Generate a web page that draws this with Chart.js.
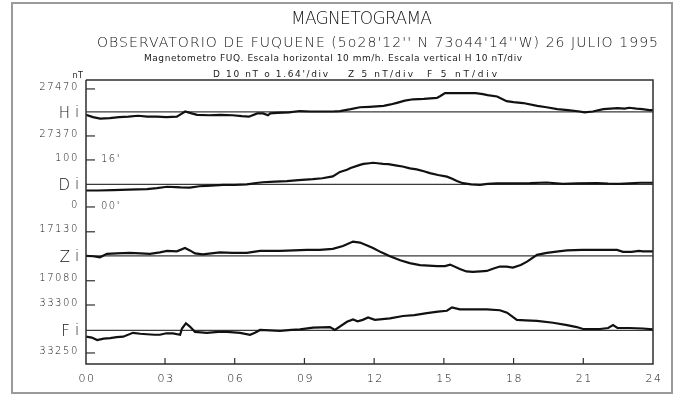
<!DOCTYPE html>
<html><head><meta charset="utf-8">
<script src="https://cdn.jsdelivr.net/npm/chart.js@4.4.1/dist/chart.umd.min.js"></script>
<style>html,body{margin:0;padding:0;background:#fff;overflow:hidden}canvas{display:block}</style>
</head><body>
<canvas id="c" width="676" height="396"></canvas>
<script>
// ---- data ----
const timeRange = [-0.4, 24];
const hourTicks = [0, 3, 6, 9, 12, 15, 18, 21, 24];
const hourTickLabels = ['00', '03', '06', '09', '12', '15', '18', '21', '24'];
const componentNames = ['H', 'D', 'Z', 'F'];
const hTickValues = [27470, 27370];
const dTickValues = [100, 0];
const dTickArcLabels = ["16'", "00'"];
const zTickValues = [17130, 17080];
const fTickValues = [33300, 33250];
const baselineValues = [27421, 48, 17105.5, 33273.5]; // H, D, Z, F reference lines

const hHours = [-0.40,-0.10,0.21,0.62,1.02,1.43,1.84,2.24,2.65,3.06,3.51,3.67,3.87,4.07,4.38,4.89,5.39,5.90,6.31,6.61,6.97,7.22,7.43,7.53,7.83,8.34,8.80,9.26,9.77,10.22,10.53,10.99,11.39,11.80,12.10,12.41,12.71,13.02,13.32,13.68,14.14,14.70,14.85,15.05,15.46,15.87,16.37,16.68,16.88,17.29,17.70,18.00,18.41,19.02,19.42,19.88,20.34,20.85,21.05,21.41,21.86,22.17,22.47,22.78,22.98,23.29,23.54,23.85,24.00];
const hValues = [27415,27410,27407,27408,27410,27411,27413,27411,27411,27410,27411,27416,27422,27419,27415,27414,27415,27414,27412,27411,27418,27418,27414,27418,27419,27420,27423,27422,27422,27422,27423,27427,27431,27432,27433,27434,27437,27441,27445,27448,27449,27451,27455,27461,27461,27461,27461,27459,27457,27454,27444,27442,27440,27434,27431,27427,27425,27422,27420,27422,27427,27428,27429,27428,27430,27428,27427,27425,27425];

const dHours = [-0.40,0.11,0.76,1.43,2.22,2.65,3.09,3.46,3.67,4.07,4.48,4.80,5.50,6.00,6.52,6.92,7.21,7.73,8.24,8.75,9.36,9.77,10.22,10.53,10.83,10.99,11.39,11.54,11.80,11.95,12.15,12.38,12.61,12.98,13.22,13.54,13.83,14.14,14.40,14.75,15.13,15.36,15.56,15.82,16.17,16.56,16.88,17.29,17.90,18.71,19.42,20.12,20.74,21.59,22.07,22.58,22.98,23.44,24.00];
const dValues = [35,35,36,37,38,40,43,42,41.5,41,44,45,47,47,48,51,52.5,54,55,57,59,61,65,74.5,79,83,89.4,91.5,93,94,93,91.5,91,88,86,82,80,76,72,68,64.5,60,55,50.5,48,47,49,50,50,50.5,52,49,50,50.5,49.5,49,50,51.5,51.5];

const zHours = [-0.40,-0.10,0.20,0.50,0.92,1.49,1.94,2.35,2.78,3.09,3.51,3.86,4.07,4.29,4.63,4.99,5.36,5.90,6.52,7.09,7.53,7.95,8.55,9.10,9.66,10.22,10.66,11.09,11.39,11.70,11.95,12.31,12.68,13.12,13.53,13.97,14.34,14.71,15.05,15.27,15.69,15.97,16.25,16.58,16.85,17.14,17.41,17.70,17.97,18.31,18.58,19.01,19.43,19.93,20.30,20.95,21.42,21.96,22.45,22.71,23.08,23.39,23.57,24.00];
const zValues = [17105.5,17105,17104,17107.5,17108,17108.5,17108,17107.5,17109,17110.5,17110,17113.5,17111,17108,17107,17108,17109,17108.5,17108.5,17110.5,17110.5,17110.5,17111,17111.5,17111.5,17112.5,17115.5,17120,17119,17116,17113.5,17109,17105,17101,17098,17096,17095.5,17095,17095,17096.5,17092,17089.5,17089,17089.5,17090,17092.5,17094.5,17094.5,17093.5,17096,17099.5,17106.5,17108.5,17110,17111,17111.5,17111.5,17111.5,17111.5,17109.5,17109.5,17110.5,17110,17110];

const fHours = [-0.40,-0.15,0.08,0.36,0.64,0.92,1.20,1.62,1.94,2.22,2.55,2.78,3.06,3.34,3.65,3.73,3.90,4.07,4.29,4.80,5.29,5.67,6.23,6.66,6.87,7.09,7.95,8.44,8.81,9.37,10.10,10.31,10.83,11.09,11.29,11.51,11.74,12.03,12.68,13.24,13.73,14.27,14.75,15.13,15.35,15.69,16.27,16.85,17.41,17.72,18.14,18.51,19.01,19.70,20.30,20.72,20.99,21.72,22.07,22.28,22.47,22.98,23.57,24.00];
const fValues = [33267,33266,33263.5,33265,33265.5,33266.5,33267,33271,33270,33269.5,33269,33269,33270.5,33270.5,33269,33275.5,33281,33277.5,33272,33271,33272,33272,33271,33269,33271,33274,33273,33274,33274.5,33276.5,33277,33274,33282.5,33285,33283,33284.5,33287,33284.5,33286,33288.5,33289.5,33291.5,33293,33294,33297.5,33295.5,33295.5,33295.5,33294.5,33292,33284.5,33284,33283.5,33281.5,33279,33277,33275,33275,33276,33279,33276,33276,33275.5,33274.5];

// ---- build chart ----
const pts = (xs, ys) => xs.map((x, i) => ({x: x, y: ys[i]}));
const axisIds = ['yH', 'yD', 'yZ', 'yF'];
const series = [[hHours, hValues], [dHours, dValues], [zHours, zValues], [fHours, fValues]];
const INK = '#111111';

const datasets = [];
series.forEach((s, i) => {
  datasets.push({label: componentNames[i] + ' ref', data: pts(timeRange, [baselineValues[i], baselineValues[i]]),
    yAxisID: axisIds[i], borderColor: '#3a3a3a', borderWidth: 1.2, pointRadius: 0, fill: false, order: 2});
  datasets.push({label: componentNames[i], data: pts(s[0], s[1]), yAxisID: axisIds[i],
    borderColor: INK, borderWidth: 2.2, pointRadius: 0, fill: false, tension: 0, order: 1});
});

const TXT = '#111';
function fitText(c, s, x0, x1, y, font, color) {
  c.font = font; c.letterSpacing = '0px';
  const w = c.measureText(s).width;
  const sp = (x1 - x0 - w) / Math.max(1, s.length - 1);
  c.letterSpacing = sp + 'px';
  c.textAlign = 'left'; c.textBaseline = 'middle'; c.fillStyle = color || TXT;
  c.fillText(s, x0, y);
  c.letterSpacing = '0px';
}
function txt(c, s, x, y, font, align, spacing, color) {
  c.font = font; c.letterSpacing = (spacing || 0) + 'px';
  c.textAlign = align; c.textBaseline = 'middle'; c.fillStyle = color || TXT;
  c.fillText(s, x, y);
  c.letterSpacing = '0px';
}

const FONT = '"DejaVu Sans", sans-serif';
const W = '200 ';
const deco = {
  id: 'deco',
  beforeDraw(chart) {
    const c = chart.ctx; c.save(); c.fillStyle = '#fff'; c.fillRect(0, 0, chart.width, chart.height); c.restore();
  },
  afterDraw(chart) {
    const c = chart.ctx, a = chart.chartArea, sx = chart.scales.x;
    c.save();
    // outer paper frame
    c.fillStyle = '#9a9a9a';
    c.fillRect(11, 2, 662, 2);
    c.fillRect(11, 392, 662, 2);
    c.fillRect(11, 2, 2, 392);
    c.fillRect(671, 2, 2, 392);
    // plot frame
    c.strokeStyle = '#2e2e2e'; c.lineWidth = 1.5;
    c.beginPath();
    c.moveTo(a.left, a.top); c.lineTo(a.left, a.bottom); c.lineTo(a.right, a.bottom); c.lineTo(a.right, a.top); c.lineTo(a.left, a.top);
    c.stroke();
    // titles
    fitText(c, 'MAGNETOGRAMA', 291, 432, 20, W + '17px ' + FONT);
    fitText(c, "OBSERVATORIO DE FUQUENE (5o28'12'' N 73o44'14''W) 26 JULIO 1995", 97, 658, 43, W + '14px ' + FONT);
    fitText(c, 'Magnetometro FUQ. Escala horizontal 10 mm/h. Escala vertical H 10 nT/div', 144, 522, 59, '9px ' + FONT, '#222');
    fitText(c, "D 10 nT o 1.64'/div", 213, 328, 75, '9px ' + FONT, '#222');
    fitText(c, 'Z 5 nT/div', 348, 413, 75, '9px ' + FONT, '#222');
    fitText(c, 'F 5 nT/div', 427, 497, 75, '9px ' + FONT, '#222');
    txt(c, 'nT', 78, 76, '8px ' + FONT, 'center', 0.5, '#222');
    // x ticks and labels (the first label sits at the origin corner, as on the chart)
    c.strokeStyle = '#2e2e2e'; c.lineWidth = 1.2;
    hourTicks.forEach((h, i) => {
      const px = sx.getPixelForValue(h);
      if (i > 0 && i < hourTicks.length - 1) {
        c.beginPath(); c.moveTo(px, a.bottom); c.lineTo(px, a.bottom - 6); c.stroke();
      }
      const lx = i === 0 ? a.left : px;
      txt(c, hourTickLabels[i], lx + 1, 379, W + '11px ' + FONT, 'center', 1.5);
    });
    // y ticks per component
    const tickSets = [hTickValues, dTickValues, zTickValues, fTickValues];
    tickSets.forEach((vals, i) => {
      const sc = chart.scales[axisIds[i]];
      vals.forEach((v, j) => {
        const py = sc.getPixelForValue(v);
        c.beginPath(); c.moveTo(a.left, py); c.lineTo(a.left + 9, py); c.stroke();
        txt(c, String(v), 79, py - 2, W + '10px ' + FONT, 'right', 1.6);
        if (i === 1) txt(c, dTickArcLabels[j], 101, py - 1, W + '10px ' + FONT, 'left', 1.5);
      });
      const by = sc.getPixelForValue(baselineValues[i]);
      txt(c, componentNames[i], 70, by + 2, W + '15px ' + FONT, 'right', 0);
      txt(c, 'i', 77, by + 1, W + '15px ' + FONT, 'center', 0);
    });
    c.restore();
  }
};

new Chart(document.getElementById('c'), {
  type: 'line',
  data: {datasets: datasets},
  options: {
    responsive: false, animation: false, devicePixelRatio: 1,
    layout: {padding: {left: 86, right: 23, top: 80, bottom: 32}},
    plugins: {legend: {display: false}, tooltip: {enabled: false}, title: {display: false}},
    scales: {
      x: {type: 'linear', min: timeRange[0], max: timeRange[1], display: false},
      yH: {type: 'linear', position: 'left', min: 26885, max: 27489, display: false},
      yD: {type: 'linear', position: 'left', min: -334, max: 270, display: false},
      yZ: {type: 'linear', position: 'left', min: 16995, max: 17285, display: false},
      yF: {type: 'linear', position: 'left', min: 33238.5, max: 33534.5, display: false}
    }
  },
  plugins: [deco]
});
</script>
</body></html>
